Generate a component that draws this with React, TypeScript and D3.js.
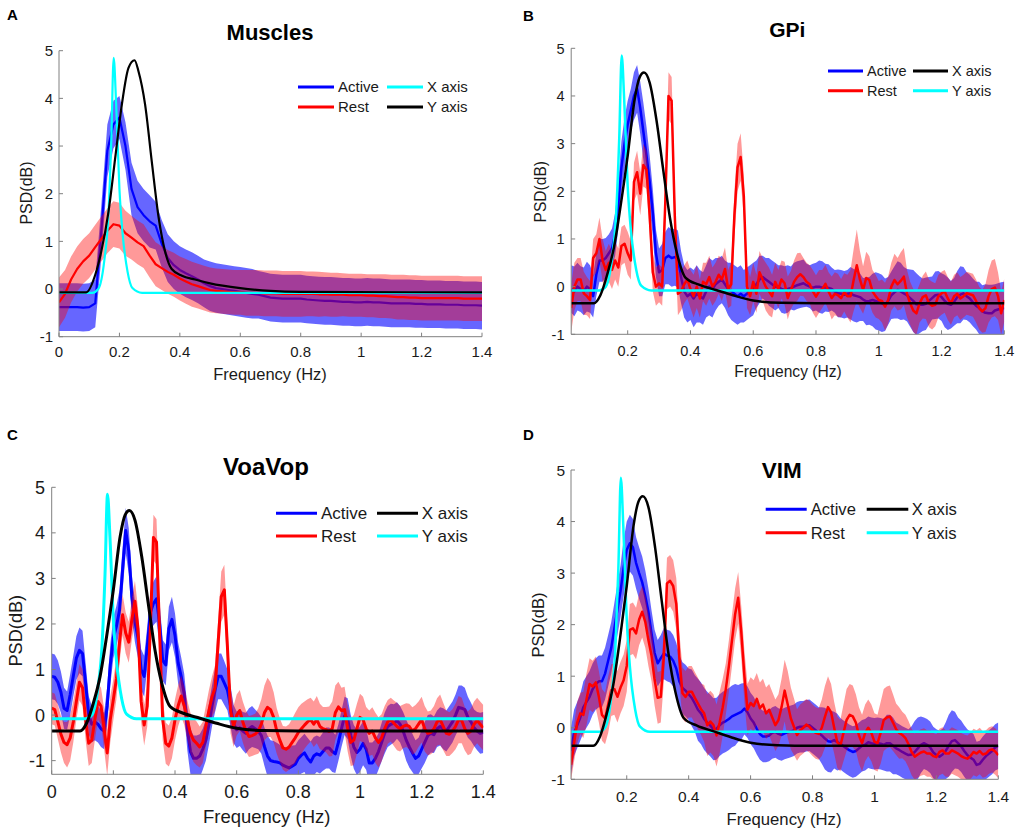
import React from 'react';
import * as d3 from 'd3';

// ---------- DATA ----------
const seriesNames = ['Active', 'Rest', 'X axis', 'Y axis'];
const panelTitles = ['Muscles', 'GPi', 'VoaVop', 'VIM'];
const panelLetters = ['A', 'B', 'C', 'D'];
const xTicksFrom0 = [0, 0.2, 0.4, 0.6, 0.8, 1, 1.2, 1.4];
const xTickLabelsFrom0 = ['0', '0.2', '0.4', '0.6', '0.8', '1', '1.2', '1.4'];
const xTicksFrom02 = [0.2, 0.4, 0.6, 0.8, 1, 1.2, 1.4];
const xTickLabelsFrom02 = ['0.2', '0.4', '0.6', '0.8', '1', '1.2', '1.4'];
const yTicks = [-1, 0, 1, 2, 3, 4, 5];
const yTickLabels = ['-1', '0', '1', '2', '3', '4', '5'];

// frequency bins (Hz)
const freqA = d3.range(71).map((i) => (i * 2) / 100);
const freqC = d3.range(141).map((i) => i / 100);
const freqBD = d3.range(139).map((i) => (i + 2) / 100);

// Panel A: Muscles (0.02 Hz bins)
const aActive = [-0.38,-0.38,-0.38,-0.38,-0.39,-0.38,-0.3,1.2,2.9,3.45,
 3.6,3.0,2.1,1.72,1.55,1.42,1.33,0.95,0.65,0.5,
 0.4,0.33,0.27,0.2,0.12,0.06,0.02,0.0,-0.02,-0.04,
 -0.06,-0.08,-0.1,-0.12,-0.15,-0.18,-0.19,-0.2,-0.2,-0.2,
 -0.2,-0.22,-0.23,-0.24,-0.25,-0.25,-0.26,-0.27,-0.27,-0.28,
 -0.28,-0.27,-0.28,-0.28,-0.29,-0.3,-0.3,-0.3,-0.3,-0.31,
 -0.31,-0.32,-0.32,-0.32,-0.33,-0.33,-0.33,-0.34,-0.34,-0.34,
 -0.35];
const aActiveHw = [0.5,0.5,0.5,0.5,0.5,0.5,0.5,0.55,0.55,0.5,
 0.45,0.5,0.55,0.55,0.55,0.55,0.5,0.5,0.5,0.5,
 0.5,0.5,0.5,0.5,0.5,0.52,0.52,0.52,0.52,0.52,
 0.52,0.52,0.52,0.5,0.5,0.5,0.5,0.5,0.5,0.5,
 0.5,0.5,0.5,0.5,0.5,0.5,0.5,0.5,0.5,0.5,
 0.5,0.5,0.5,0.5,0.5,0.5,0.5,0.5,0.5,0.5,
 0.5,0.5,0.5,0.5,0.5,0.5,0.5,0.5,0.5,0.5,
 0.5];
const aRest = [-0.28,-0.1,0.2,0.42,0.58,0.7,0.88,1.05,1.22,1.36,
 1.33,1.17,1.08,0.98,0.9,0.7,0.52,0.44,0.36,0.3,
 0.22,0.16,0.1,0.06,0.02,-0.02,-0.04,-0.05,-0.06,-0.07,
 -0.07,-0.08,-0.08,-0.08,-0.09,-0.09,-0.09,-0.1,-0.1,-0.1,
 -0.1,-0.1,-0.1,-0.11,-0.11,-0.12,-0.12,-0.12,-0.13,-0.13,
 -0.13,-0.14,-0.14,-0.15,-0.15,-0.16,-0.17,-0.17,-0.18,-0.18,
 -0.19,-0.19,-0.19,-0.19,-0.19,-0.19,-0.19,-0.2,-0.2,-0.2,
 -0.2];
const aRestHw = [0.52,0.5,0.48,0.47,0.47,0.47,0.47,0.47,0.47,0.48,
 0.48,0.47,0.46,0.46,0.46,0.46,0.46,0.46,0.46,0.46,
 0.46,0.47,0.47,0.47,0.47,0.47,0.47,0.47,0.47,0.47,
 0.47,0.48,0.48,0.48,0.48,0.48,0.48,0.48,0.48,0.48,
 0.48,0.47,0.47,0.47,0.46,0.46,0.46,0.45,0.45,0.45,
 0.45,0.45,0.45,0.46,0.46,0.46,0.47,0.47,0.47,0.47,
 0.47,0.47,0.47,0.47,0.47,0.47,0.47,0.47,0.47,0.47,
 0.47];

// Panel B: GPi (0.02..1.40, 0.01 Hz bins)
const bActive = [-0.05,-0.1,0.0,-0.05,-0.1,0.0,-0.05,-0.2,
 0.25,0.55,0.55,0.6,0.7,0.8,1.1,1.7,2.5,3.0,
 3.4,3.7,4.0,4.15,3.75,3.25,2.75,2.2,1.55,0.7,
 0.3,0.35,0.6,0.65,0.6,0.62,0.58,0.2,-0.1,-0.2,
 -0.15,-0.25,-0.15,-0.2,-0.25,-0.1,0.0,-0.05,0.05,0.1,
 0.15,0.05,-0.05,-0.1,-0.15,-0.2,-0.15,-0.2,-0.15,-0.1,
 -0.05,0.05,0.15,0.2,0.15,0.1,0.05,0.0,0.0,-0.05,
 -0.07,-0.05,-0.03,0.0,0.03,0.05,0.07,0.03,0.0,-0.02,
 0.0,0.0,-0.02,-0.02,-0.03,-0.05,-0.1,-0.14,-0.15,-0.17,
 -0.15,-0.14,-0.18,-0.2,-0.22,-0.27,-0.31,-0.3,-0.28,-0.3,
 -0.32,-0.35,-0.38,-0.3,-0.18,-0.12,-0.07,-0.1,-0.14,-0.18,
 -0.24,-0.3,-0.37,-0.38,-0.38,-0.36,-0.3,-0.24,-0.18,-0.17,
 -0.22,-0.3,-0.36,-0.38,-0.32,-0.22,-0.17,-0.14,-0.2,-0.25,
 -0.33,-0.4,-0.45,-0.52,-0.55,-0.56,-0.56,-0.5,-0.48,-0.46,
 -0.45];
const bActiveHw = [0.5,0.52,0.5,0.48,0.5,0.52,0.5,0.45,
 0.45,0.45,0.45,0.42,0.4,0.42,0.45,0.5,0.55,0.55,
 0.5,0.45,0.5,0.5,0.55,0.6,0.6,0.55,0.5,0.5,
 0.5,0.55,0.55,0.6,0.6,0.6,0.6,0.55,0.55,0.55,
 0.55,0.6,0.6,0.55,0.55,0.55,0.6,0.6,0.55,0.5,
 0.5,0.5,0.55,0.6,0.6,0.6,0.6,0.55,0.55,0.55,
 0.55,0.5,0.5,0.45,0.45,0.5,0.5,0.5,0.45,0.5,
 0.5,0.5,0.45,0.5,0.5,0.5,0.5,0.45,0.45,0.5,
 0.5,0.55,0.55,0.5,0.5,0.45,0.45,0.5,0.5,0.5,
 0.5,0.55,0.55,0.55,0.5,0.45,0.5,0.5,0.55,0.6,
 0.6,0.6,0.55,0.5,0.5,0.55,0.6,0.6,0.55,0.55,
 0.6,0.65,0.65,0.6,0.55,0.55,0.5,0.45,0.5,0.5,
 0.5,0.55,0.55,0.5,0.5,0.55,0.6,0.55,0.5,0.5,
 0.5,0.5,0.55,0.55,0.6,0.6,0.6,0.55,0.55,0.55,
 0.55];
const bRest = [-0.45,0.0,0.15,0.15,-0.14,-0.2,-0.28,0.6,
 0.7,1.0,0.55,0.35,0.5,0.35,0.55,0.4,0.85,0.9,
 0.7,0.55,2.2,2.4,1.95,2.55,2.45,1.5,0.3,0.0,
 0.07,0.0,1.8,4.0,3.9,1.5,-0.15,-0.1,0.05,0.15,
 -0.05,-0.2,0.0,-0.25,0.1,0.05,0.2,0.0,0.1,0.25,
 0.15,0.37,-0.05,0.05,1.5,2.5,2.72,1.9,0.0,-0.2,
 0.1,-0.15,0.3,0.15,0.0,-0.1,-0.2,0.1,-0.05,0.15,
 0.07,-0.24,-0.07,0.1,0.2,0.26,0.2,0.1,0.05,-0.1,
 -0.21,-0.1,-0.05,0.06,-0.1,-0.24,-0.15,-0.18,-0.24,-0.12,
 -0.2,-0.2,0.14,0.45,0.15,-0.07,0.18,0.14,-0.1,-0.2,
 -0.28,-0.3,-0.42,-0.28,0.0,0.14,0.05,0.12,0.21,-0.15,
 -0.35,-0.5,-0.56,-0.35,-0.22,-0.18,-0.35,-0.4,-0.38,-0.2,
 -0.14,-0.1,-0.25,-0.35,-0.2,-0.15,-0.25,-0.2,-0.14,-0.16,
 -0.18,-0.3,-0.45,-0.52,-0.45,-0.2,-0.05,-0.02,-0.2,-0.56,
 -0.28];
const bRestHw = [0.5,0.5,0.45,0.45,0.45,0.4,0.4,0.4,
 0.4,0.45,0.45,0.4,0.4,0.4,0.4,0.4,0.4,0.4,
 0.45,0.4,0.4,0.45,0.45,0.45,0.4,0.4,0.4,0.4,
 0.4,0.4,0.5,0.5,0.5,0.5,0.45,0.4,0.4,0.4,
 0.4,0.45,0.45,0.4,0.4,0.45,0.45,0.4,0.4,0.4,
 0.45,0.45,0.4,0.45,0.5,0.5,0.5,0.45,0.45,0.4,
 0.4,0.4,0.45,0.45,0.5,0.5,0.45,0.4,0.4,0.4,
 0.45,0.45,0.4,0.45,0.5,0.45,0.4,0.4,0.4,0.45,
 0.45,0.45,0.4,0.4,0.4,0.45,0.45,0.45,0.4,0.4,
 0.45,0.55,0.65,0.75,0.6,0.5,0.55,0.5,0.45,0.45,
 0.4,0.45,0.5,0.5,0.5,0.55,0.55,0.6,0.6,0.5,
 0.45,0.45,0.45,0.4,0.45,0.5,0.5,0.5,0.45,0.45,
 0.45,0.45,0.45,0.45,0.45,0.45,0.45,0.45,0.45,0.45,
 0.45,0.45,0.45,0.45,0.5,0.55,0.6,0.6,0.5,0.45,
 0.45];

// Panel C: VoaVop (0.00..1.40, 0.01 Hz bins)
const cActive = [0.85,0.83,0.72,0.5,0.15,0.1,0.45,0.85,1.25,1.42,
 1.35,0.7,0.0,-0.2,-0.15,-0.2,-0.3,-0.35,0.2,1.1,
 1.7,1.95,2.3,3.2,4.05,3.6,2.6,2.05,1.7,1.0,
 0.85,1.5,2.25,2.45,2.55,2.0,1.2,1.1,1.9,2.1,
 1.75,1.15,0.85,0.45,-0.3,-0.8,-0.95,-0.95,-0.9,-0.75,
 -0.55,-0.2,0.2,0.55,0.85,0.85,0.7,0.55,0.2,-0.2,
 -0.32,-0.28,-0.35,-0.4,-0.3,-0.25,-0.3,-0.35,-0.45,-0.69,
 -0.9,-1.0,-1.02,-1.03,-1.05,-1.1,-1.13,-1.16,-1.12,-1.08,
 -0.95,-0.88,-0.83,-0.95,-1.03,-0.9,-0.85,-0.88,-0.8,-0.72,
 -0.72,-0.8,-0.85,-0.6,-0.3,-0.02,-0.08,-0.45,-0.7,-0.82,
 -0.75,-0.62,-0.75,-1.05,-1.05,-0.95,-0.8,-0.6,-0.4,-0.25,
 -0.2,-0.18,-0.12,-0.2,-0.35,-0.55,-0.7,-0.83,-0.95,-0.9,
 -0.75,-0.6,-0.45,-0.4,-0.43,-0.3,-0.25,-0.3,-0.35,-0.25,
 -0.15,0.0,0.17,0.15,0.12,-0.05,-0.15,-0.28,-0.35,-0.4,
 -0.38];
const cActiveHw = [0.5,0.5,0.48,0.45,0.45,0.42,0.45,0.45,0.48,0.5,
 0.5,0.45,0.42,0.4,0.4,0.4,0.4,0.4,0.42,0.45,
 0.45,0.45,0.45,0.48,0.5,0.5,0.48,0.45,0.45,0.45,
 0.45,0.45,0.45,0.48,0.5,0.48,0.45,0.45,0.48,0.5,
 0.48,0.45,0.42,0.45,0.48,0.5,0.5,0.5,0.48,0.45,
 0.45,0.45,0.45,0.48,0.5,0.5,0.48,0.45,0.45,0.42,
 0.4,0.4,0.42,0.45,0.45,0.45,0.42,0.4,0.4,0.42,
 0.45,0.45,0.45,0.42,0.4,0.4,0.42,0.45,0.45,0.42,
 0.4,0.4,0.42,0.45,0.45,0.42,0.4,0.4,0.42,0.45,
 0.45,0.45,0.42,0.4,0.4,0.42,0.45,0.45,0.48,0.5,
 0.5,0.48,0.45,0.45,0.45,0.42,0.4,0.42,0.45,0.45,
 0.45,0.42,0.4,0.4,0.42,0.45,0.45,0.42,0.4,0.4,
 0.42,0.45,0.45,0.42,0.4,0.4,0.42,0.45,0.45,0.45,
 0.45,0.45,0.48,0.5,0.48,0.45,0.42,0.4,0.42,0.45,
 0.45];
const cRest = [0.15,0.12,-0.15,-0.42,-0.6,-0.65,-0.5,-0.15,0.3,0.72,
 0.6,-0.1,-0.62,-0.55,-0.1,0.3,0.2,-0.3,-0.83,-0.1,
 0.34,0.8,1.6,2.2,1.8,1.6,2.1,2.5,1.9,0.3,
 -0.22,0.2,1.9,3.9,3.8,1.8,-0.1,-0.62,-0.68,-0.5,
 -0.1,0.2,0.42,0.2,-0.1,-0.4,-0.55,-0.62,-0.7,-0.6,
 -0.25,0.1,0.4,0.6,1.6,2.6,2.75,1.5,0.1,-0.25,
 0.0,0.1,-0.15,-0.35,-0.47,-0.45,-0.42,-0.35,-0.2,0.05,
 0.17,0.12,-0.05,-0.35,-0.55,-0.72,-0.75,-0.7,-0.6,-0.5,
 -0.38,-0.3,-0.22,-0.15,-0.1,-0.2,-0.1,-0.25,-0.3,-0.32,
 -0.36,-0.3,0.05,0.18,0.1,0.12,-0.3,-0.6,-0.55,-0.3,
 -0.05,-0.1,-0.3,-0.4,-0.35,-0.5,-0.6,-0.5,-0.3,-0.15,
 -0.1,-0.18,-0.25,-0.3,-0.25,-0.22,-0.25,-0.35,-0.3,-0.2,
 -0.1,-0.3,-0.4,-0.38,-0.3,-0.15,-0.1,-0.25,-0.4,-0.42,
 -0.35,-0.25,-0.1,-0.12,-0.3,-0.4,-0.35,-0.2,-0.12,-0.2,
 -0.28];
const cRestHw = [0.35,0.35,0.38,0.4,0.45,0.5,0.5,0.45,0.4,0.4,
 0.4,0.45,0.5,0.5,0.45,0.4,0.4,0.45,0.5,0.5,
 0.45,0.45,0.45,0.45,0.45,0.45,0.45,0.45,0.45,0.45,
 0.45,0.45,0.5,0.5,0.5,0.5,0.45,0.45,0.45,0.45,
 0.45,0.45,0.45,0.42,0.42,0.45,0.48,0.48,0.45,0.45,
 0.45,0.45,0.45,0.5,0.5,0.55,0.55,0.5,0.5,0.45,
 0.45,0.45,0.45,0.45,0.45,0.45,0.45,0.5,0.55,0.6,
 0.65,0.6,0.55,0.5,0.48,0.48,0.5,0.5,0.52,0.55,
 0.55,0.55,0.52,0.5,0.48,0.5,0.52,0.5,0.48,0.5,
 0.55,0.6,0.6,0.55,0.5,0.5,0.5,0.52,0.55,0.55,
 0.52,0.5,0.48,0.5,0.52,0.55,0.55,0.52,0.5,0.48,
 0.48,0.5,0.52,0.5,0.48,0.48,0.5,0.52,0.52,0.5,
 0.5,0.5,0.48,0.48,0.5,0.52,0.55,0.52,0.5,0.48,
 0.48,0.5,0.52,0.5,0.48,0.48,0.5,0.5,0.5,0.5,
 0.5];

// Panel D: VIM (0.02..1.40, 0.01 Hz bins)
const dActive = [-0.45,-0.1,0.05,0.2,0.4,0.5,0.6,0.75,
 0.85,0.9,0.9,1.05,1.3,1.55,1.92,2.3,2.65,3.1,
 3.45,3.58,3.5,3.2,3.0,2.82,2.55,2.25,1.83,1.45,
 1.25,1.35,1.44,1.4,1.38,1.3,1.15,0.9,0.77,0.72,
 0.65,0.58,0.47,0.35,0.28,0.17,0.1,0.04,-0.03,-0.02,
 0.05,0.1,0.13,0.17,0.22,0.25,0.28,0.31,0.37,0.3,
 0.18,0.1,-0.02,-0.12,-0.17,-0.17,-0.15,-0.1,-0.08,-0.12,
 -0.14,-0.11,-0.09,-0.07,-0.05,0.0,0.02,0.02,0.04,0.05,
 0.0,-0.05,-0.1,-0.15,-0.21,-0.26,-0.27,-0.24,-0.28,-0.31,
 -0.36,-0.4,-0.44,-0.47,-0.45,-0.4,-0.35,-0.33,-0.28,-0.3,
 -0.31,-0.3,-0.31,-0.33,-0.3,-0.3,-0.35,-0.4,-0.43,-0.47,
 -0.5,-0.53,-0.52,-0.47,-0.4,-0.33,-0.3,-0.33,-0.38,-0.48,
 -0.53,-0.56,-0.52,-0.45,-0.35,-0.26,-0.24,-0.3,-0.36,-0.45,
 -0.53,-0.58,-0.62,-0.72,-0.7,-0.62,-0.55,-0.5,-0.45,-0.38,
 -0.35];
const dActiveHw = [0.45,0.45,0.45,0.45,0.5,0.5,0.5,0.5,
 0.5,0.5,0.5,0.5,0.5,0.5,0.5,0.5,0.5,0.55,
 0.55,0.55,0.55,0.5,0.5,0.5,0.5,0.45,0.45,0.45,
 0.45,0.45,0.5,0.5,0.5,0.5,0.5,0.5,0.5,0.5,
 0.5,0.55,0.55,0.6,0.6,0.6,0.6,0.6,0.6,0.6,
 0.6,0.6,0.6,0.6,0.6,0.6,0.55,0.55,0.5,0.5,
 0.5,0.5,0.5,0.5,0.5,0.5,0.5,0.5,0.5,0.5,
 0.5,0.5,0.5,0.5,0.5,0.5,0.5,0.5,0.5,0.5,
 0.5,0.5,0.5,0.55,0.6,0.6,0.6,0.55,0.55,0.5,
 0.5,0.5,0.5,0.5,0.5,0.5,0.5,0.5,0.5,0.5,
 0.5,0.5,0.5,0.5,0.55,0.55,0.55,0.5,0.5,0.5,
 0.5,0.5,0.55,0.6,0.6,0.55,0.5,0.5,0.5,0.5,
 0.5,0.5,0.5,0.55,0.6,0.6,0.55,0.5,0.5,0.5,
 0.5,0.5,0.5,0.45,0.45,0.45,0.45,0.45,0.45,0.45,
 0.45];
const dRest = [-0.72,-0.3,0.1,0.28,0.25,0.55,0.85,0.8,
 0.88,0.6,0.25,0.18,0.45,0.73,0.75,0.6,0.78,0.92,
 1.2,1.9,1.93,1.83,2.1,2.25,2.05,1.7,1.4,0.93,
 0.58,0.6,1.4,2.8,2.85,2.75,2.4,1.35,0.67,0.6,
 0.7,0.7,0.58,0.47,0.36,0.28,0.05,0.12,0.05,-0.15,
 0.1,0.4,0.75,1.2,1.7,2.2,2.52,1.85,1.0,0.35,
 0.48,0.42,0.56,0.38,0.45,0.28,0.35,0.2,0.05,0.15,
 0.4,0.72,0.45,0.18,0.02,-0.14,-0.05,0.0,0.06,0.02,
 -0.05,-0.1,-0.12,0.0,0.21,0.4,0.3,0.0,-0.28,-0.35,
 -0.1,0.15,0.25,0.22,0.1,-0.15,-0.3,-0.1,0.0,-0.1,
 -0.27,-0.3,-0.1,0.15,0.2,0.22,0.1,-0.03,-0.1,-0.14,
 -0.2,-0.32,-0.47,-0.56,-0.52,-0.48,-0.46,-0.5,-0.5,-0.55,
 -0.57,-0.47,-0.44,-0.5,-0.5,-0.44,-0.47,-0.5,-0.55,-0.58,
 -0.6,-0.55,-0.47,-0.5,-0.45,-0.52,-0.5,-0.44,-0.42,-0.46,
 -0.53];
const dRestHw = [0.3,0.35,0.4,0.4,0.45,0.5,0.5,0.5,
 0.5,0.5,0.5,0.5,0.55,0.5,0.5,0.5,0.5,0.5,
 0.5,0.5,0.5,0.5,0.5,0.5,0.5,0.5,0.5,0.5,
 0.5,0.5,0.5,0.5,0.5,0.5,0.5,0.5,0.5,0.5,
 0.5,0.5,0.5,0.5,0.5,0.55,0.6,0.6,0.6,0.6,
 0.6,0.55,0.5,0.5,0.5,0.5,0.5,0.5,0.5,0.5,
 0.5,0.5,0.5,0.5,0.5,0.5,0.5,0.5,0.5,0.5,
 0.55,0.6,0.65,0.6,0.55,0.5,0.5,0.5,0.5,0.5,
 0.5,0.5,0.5,0.55,0.6,0.6,0.55,0.5,0.5,0.5,
 0.55,0.6,0.6,0.6,0.55,0.55,0.55,0.55,0.55,0.55,
 0.55,0.55,0.6,0.6,0.6,0.6,0.55,0.5,0.5,0.45,
 0.45,0.45,0.45,0.45,0.45,0.45,0.45,0.45,0.45,0.45,
 0.45,0.45,0.45,0.45,0.45,0.45,0.45,0.45,0.45,0.45,
 0.45,0.45,0.45,0.45,0.45,0.45,0.45,0.45,0.45,0.45,
 0.45];

// Reference curves (smooth): "Y axis"/"X axis" accelerometer spectra
const cyanFreq = [0, 0.11, 0.13, 0.15, 0.163, 0.173, 0.181, 0.189, 0.2, 0.21, 0.227, 0.243, 0.275, 1.4];
const cyanPsd = [-0.08, -0.08, 0.0, 0.6, 1.5, 3.1, 4.85, 3.9, 2.1, 1.2, 0.36, 0.02, -0.08, -0.08];
const blackFreqA = [0, 0.09, 0.12, 0.14, 0.164, 0.186, 0.208, 0.23, 0.25, 0.263, 0.285, 0.307, 0.33, 0.351, 0.373, 0.407, 0.45, 0.5, 0.6, 0.7, 0.8, 1.4];
const blackPsdA = [-0.07, -0.07, 0.3, 0.79, 1.63, 2.75, 3.87, 4.64, 4.8, 4.57, 3.87, 2.68, 1.49, 0.79, 0.42, 0.28, 0.2, 0.12, 0.02, -0.04, -0.06, -0.07];
const blackFreq = [0, 0.092, 0.113, 0.135, 0.157, 0.178, 0.2, 0.222, 0.238, 0.252, 0.27, 0.292, 0.313, 0.335, 0.357, 0.384, 0.427, 0.481, 0.535, 0.6, 0.686, 0.8, 1.4];
const blackPsd = [-0.35, -0.35, -0.18, 0.26, 0.85, 1.72, 2.75, 3.92, 4.39, 4.49, 4.28, 3.48, 2.46, 1.43, 0.7, 0.19, 0.04, -0.07, -0.18, -0.29, -0.34, -0.35, -0.35];

// ---------- STYLE / LAYOUT ----------
const FONT = '"Liberation Sans", Arial, Helvetica, sans-serif';
const BLUE = '#0000ff';
const RED = '#ff0000';
const CYAN = '#00ffff';
const BLACK = '#000000';
const TEXT = '#1a1a1a';
const AXIS = '#808080';

type Layout = {
  left: number; right: number; top: number; bottom: number;
  yDomain: [number, number];
  letterX: number; letterY: number;
  titleX: number; titleY: number; titleSize: number;
  tickSize: number; tickDy: number; yGap: number;
  xlabelX: number; xlabelY: number; xlabelSize: number;
  ylabelX: number; ylabelY: number; ylabelSize: number;
  legRows: [number, number]; legLine1: [number, number]; legText1: number;
  legLine2: [number, number]; legText2: number; legSize: number;
  lw: number;
};

type PanelData = {
  idx: number;
  freq: number[];
  xDomain: [number, number];
  xTicks: number[]; xTickLabels: string[];
  active: number[]; activeHw: number[];
  rest: number[]; restHw: number[];
  blackF: number[]; blackV: number[];
  cyanIsX: boolean;
};

const layouts: Layout[] = [
  { left: 59, right: 482, top: 50.7, bottom: 336.7, yDomain: [-1, 5],
    letterX: 7, letterY: 20, titleX: 270, titleY: 40, titleSize: 22,
    tickSize: 15, tickDy: 20.5, yGap: 6,
    xlabelX: 270, xlabelY: 380, xlabelSize: 16.5,
    ylabelX: 32, ylabelY: 193, ylabelSize: 16,
    legRows: [87, 107], legLine1: [298, 334], legText1: 338, legLine2: [387, 423], legText2: 427, legSize: 15,
    lw: 2.2 },
  { left: 571.2, right: 1004.3, top: 48.3, bottom: 334.3, yDomain: [-1, 5],
    letterX: 523, letterY: 21, titleX: 787.3, titleY: 37.3, titleSize: 21,
    tickSize: 14.5, tickDy: 21.5, yGap: 6.7,
    xlabelX: 788, xlabelY: 376.7, xlabelSize: 15.6,
    ylabelX: 546, ylabelY: 191.7, ylabelSize: 15.6,
    legRows: [71, 90.7], legLine1: [828, 863], legText1: 867, legLine2: [913, 948], legText2: 952, legSize: 14.5,
    lw: 2.5 },
  { left: 51.7, right: 483.3, top: 487.3, bottom: 774.3, yDomain: [-1.3, 5],
    letterX: 7, letterY: 440, titleX: 266, titleY: 475, titleSize: 24,
    tickSize: 18, tickDy: 23.7, yGap: 6.7,
    xlabelX: 266.7, xlabelY: 823, xlabelSize: 18.5,
    ylabelX: 21.5, ylabelY: 630.7, ylabelSize: 18.2,
    legRows: [513.3, 536], legLine1: [276, 317], legText1: 321, legLine2: [377, 418], legText2: 421.7, legSize: 17,
    lw: 3 },
  { left: 571, right: 998.3, top: 470, bottom: 779.3, yDomain: [-1, 5],
    letterX: 523, letterY: 440, titleX: 781.7, titleY: 477.7, titleSize: 22.5,
    tickSize: 15.5, tickDy: 22.4, yGap: 6,
    xlabelX: 784, xlabelY: 825, xlabelSize: 16.7,
    ylabelX: 544, ylabelY: 625, ylabelSize: 16.5,
    legRows: [509.3, 532.7], legLine1: [765.7, 806.7], legText1: 810.7, legLine2: [866.7, 908.3], legText2: 911.7, legSize: 16.6,
    lw: 2.5 },
];

const panels: PanelData[] = [
  { idx: 0, freq: freqA, xDomain: [0, 1.4], xTicks: xTicksFrom0, xTickLabels: xTickLabelsFrom0,
    active: aActive, activeHw: aActiveHw, rest: aRest, restHw: aRestHw,
    blackF: blackFreqA, blackV: blackPsdA, cyanIsX: true },
  { idx: 1, freq: freqBD, xDomain: [0.02, 1.4], xTicks: xTicksFrom02, xTickLabels: xTickLabelsFrom02,
    active: bActive, activeHw: bActiveHw, rest: bRest, restHw: bRestHw,
    blackF: blackFreq, blackV: blackPsd, cyanIsX: false },
  { idx: 2, freq: freqC, xDomain: [0, 1.4], xTicks: xTicksFrom0, xTickLabels: xTickLabelsFrom0,
    active: cActive, activeHw: cActiveHw, rest: cRest, restHw: cRestHw,
    blackF: blackFreq, blackV: blackPsd, cyanIsX: false },
  { idx: 3, freq: freqBD, xDomain: [0.02, 1.4], xTicks: xTicksFrom02, xTickLabels: xTickLabelsFrom02,
    active: dActive, activeHw: dActiveHw, rest: dRest, restHw: dRestHw,
    blackF: blackFreq, blackV: blackPsd, cyanIsX: false },
];

function Panel({ p, L }: { p: PanelData; L: Layout }) {
  const x = d3.scaleLinear().domain(p.xDomain).range([L.left, L.right]);
  const y = d3.scaleLinear().domain(L.yDomain).range([L.bottom, L.top]);
  const n = Math.min(p.freq.length, p.active.length, p.rest.length);
  const idx = d3.range(n);

  const band = (mean: number[], hw: number[]) =>
    d3.area<number>()
      .x((i) => x(p.freq[i]))
      .y0((i) => y(mean[i] - (hw[i] ?? 0.5)))
      .y1((i) => y(mean[i] + (hw[i] ?? 0.5)))(idx) || '';
  const meanLine = (mean: number[]) =>
    d3.line<number>().x((i) => x(p.freq[i])).y((i) => y(mean[i]))(idx) || '';
  const smooth = (fs: number[], vs: number[]) =>
    d3.line<number>().x((i) => x(fs[i])).y((i) => y(vs[i])).curve(d3.curveMonotoneX)(d3.range(fs.length)) || '';

  const clipId = `clip-${p.idx}`;
  const legendItems = [
    { name: seriesNames[0], color: BLUE, row: 0, col: 0 },
    { name: seriesNames[1], color: RED, row: 1, col: 0 },
    { name: seriesNames[2], color: p.cyanIsX ? CYAN : BLACK, row: 0, col: 1 },
    { name: seriesNames[3], color: p.cyanIsX ? BLACK : CYAN, row: 1, col: 1 },
  ];

  return (
    <g>
      <defs>
        <clipPath id={clipId}>
          <rect x={L.left} y={L.top} width={L.right - L.left} height={L.bottom - L.top} />
        </clipPath>
      </defs>
      <g clipPath={`url(#${clipId})`}>
        <path d={band(p.active, p.activeHw)} fill={BLUE} fillOpacity={0.6} stroke="none" />
        <path d={meanLine(p.active)} fill="none" stroke={BLUE} strokeWidth={L.lw} strokeLinejoin="round" />
        <path d={band(p.rest, p.restHw)} fill={RED} fillOpacity={0.4} stroke="none" />
        <path d={meanLine(p.rest)} fill="none" stroke={RED} strokeWidth={L.lw} strokeLinejoin="round" />
        <path d={smooth(cyanFreq, cyanPsd)} fill="none" stroke={CYAN} strokeWidth={L.lw} />
        <path d={smooth(p.blackF, p.blackV)} fill="none" stroke={BLACK} strokeWidth={L.lw} />
      </g>
      {/* axes */}
      <line x1={L.left} x2={L.right} y1={L.bottom} y2={L.bottom} stroke={AXIS} strokeWidth={1} />
      <line x1={L.left} x2={L.left} y1={L.bottom} y2={L.top} stroke={AXIS} strokeWidth={1} />
      {p.xTicks.map((t, i) => (
        <g key={`xt${i}`}>
          <line x1={x(t)} x2={x(t)} y1={L.bottom} y2={L.bottom - 4} stroke={AXIS} strokeWidth={1} />
          <text x={x(t)} y={L.bottom + L.tickDy} textAnchor="middle" fontSize={L.tickSize} fill={TEXT} fontFamily={FONT}>
            {p.xTickLabels[i]}
          </text>
        </g>
      ))}
      {yTicks.map((t, i) => (
        <g key={`yt${i}`}>
          <line x1={L.left} x2={L.left + 4} y1={y(t)} y2={y(t)} stroke={AXIS} strokeWidth={1} />
          <text x={L.left - L.yGap} y={y(t)} dy="0.36em" textAnchor="end" fontSize={L.tickSize} fill={TEXT} fontFamily={FONT}>
            {yTickLabels[i]}
          </text>
        </g>
      ))}
      <text x={L.xlabelX} y={L.xlabelY} textAnchor="middle" fontSize={L.xlabelSize} fill={TEXT} fontFamily={FONT}>
        Frequency (Hz)
      </text>
      <text transform={`translate(${L.ylabelX},${L.ylabelY}) rotate(-90)`} textAnchor="middle" fontSize={L.ylabelSize} fill={TEXT} fontFamily={FONT}>
        PSD(dB)
      </text>
      <text x={L.titleX} y={L.titleY} textAnchor="middle" fontSize={L.titleSize} fontWeight="bold" fill="#000" fontFamily={FONT}>
        {panelTitles[p.idx]}
      </text>
      <text x={L.letterX} y={L.letterY} fontSize={15} fontWeight="bold" fill="#000" fontFamily={FONT}>
        {panelLetters[p.idx]}
      </text>
      {legendItems.map((it, i) => {
        const yy = L.legRows[it.row];
        const ln = it.col === 0 ? L.legLine1 : L.legLine2;
        const tx = it.col === 0 ? L.legText1 : L.legText2;
        return (
          <g key={`lg${i}`}>
            <line x1={ln[0]} x2={ln[1]} y1={yy} y2={yy} stroke={it.color} strokeWidth={3} />
            <text x={tx} y={yy} dy="0.36em" fontSize={L.legSize} fill={TEXT} fontFamily={FONT}>
              {it.name}
            </text>
          </g>
        );
      })}
    </g>
  );
}

export default function App() {
  return (
    <svg
      width={1021}
      height={831}
      viewBox="0 0 1021 831"
      style={{ position: 'absolute', left: 0, top: 0, background: '#fff' }}
    >
      <rect x={0} y={0} width={1021} height={831} fill="#fff" />
      {panels.map((p, i) => (
        <Panel key={i} p={p} L={layouts[i]} />
      ))}
    </svg>
  );
}
